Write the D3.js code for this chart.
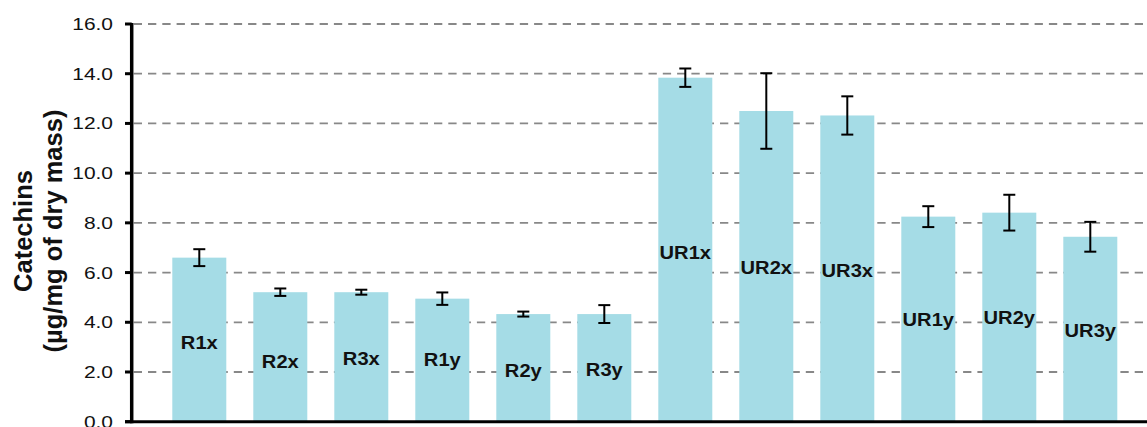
<!DOCTYPE html>
<html><head><meta charset="utf-8">
<script src="https://cdn.jsdelivr.net/npm/d3@7"></script>
<style>html,body{margin:0;padding:0;background:#fff;overflow:hidden}</style>
</head><body><div id="chart"></div>
<script>
const categories = ["R1x","R2x","R3x","R1y","R2y","R3y","UR1x","UR2x","UR3x","UR1y","UR2y","UR3y"];
const values = [6.60,5.21,5.21,4.95,4.33,4.33,13.84,12.50,12.32,8.25,8.41,7.44];
const errors = [0.34,0.15,0.10,0.25,0.10,0.36,0.37,1.52,0.77,0.42,0.72,0.60];
const labelLevels = [3.22,2.45,2.57,2.50,2.08,2.11,6.84,6.22,6.10,4.12,4.21,3.70];
const yTicks = [0,2,4,6,8,10,12,14,16];
const yTickLabels = ["0.0","2.0","4.0","6.0","8.0","10.0","12.0","14.0","16.0"];
const yTitle = ["Catechins","(µg/mg of dry mass)"];

const W = 1147, H = 427;
const FONT = "'Liberation Sans', Arial, sans-serif";
const svg = d3.select("#chart").append("svg").attr("width", W).attr("height", H);

const axisX = 131.7;
const y = d3.scaleLinear().domain([0,16]).range([421.7, 24]);
const x = d3.scaleBand().domain(categories).range([158.8, 158.8 + 12*81])
  .paddingInner(1/3).paddingOuter(1/6);

// gridlines
svg.append("g").selectAll("line").data(yTicks.filter(d => d > 0)).join("line")
  .attr("x1", axisX + 2).attr("x2", W)
  .attr("y1", d => y(d)).attr("y2", d => y(d))
  .attr("stroke", "#888").attr("stroke-width", 1.8)
  .attr("stroke-dasharray", "8.3,6");

// bars
const data = categories.map((c,i) => ({c, v: values[i], e: errors[i], l: labelLevels[i]}));
svg.append("g").selectAll("rect").data(data).join("rect")
  .attr("x", d => x(d.c)).attr("width", x.bandwidth())
  .attr("y", d => y(d.v)).attr("height", d => y(0) - y(d.v))
  .attr("fill", "#a5dce6");

// error bars
const eg = svg.append("g").attr("stroke", "#000").attr("stroke-width", 2);
data.forEach(d => {
  const cx = x(d.c) + x.bandwidth()/2;
  eg.append("line").attr("x1", cx).attr("x2", cx).attr("y1", y(d.v + d.e)).attr("y2", y(d.v - d.e));
  eg.append("line").attr("x1", cx-6).attr("x2", cx+6).attr("y1", y(d.v + d.e)).attr("y2", y(d.v + d.e));
  eg.append("line").attr("x1", cx-6).attr("x2", cx+6).attr("y1", y(d.v - d.e)).attr("y2", y(d.v - d.e));
});

// bar labels
svg.append("g").selectAll("text").data(data).join("text")
  .attr("transform", d => `translate(${x(d.c) + x.bandwidth()/2},${y(d.l)}) scale(1.06,1)`)
  .attr("dy", "0.36em")
  .attr("text-anchor", "middle")
  .attr("font-family", FONT).attr("font-weight", "bold").attr("font-size", 19)
  .attr("fill", "#111").text(d => d.c);

// axes
svg.append("line").attr("x1", axisX).attr("x2", axisX).attr("y1", y(16) - 1).attr("y2", y(0) + 1.5)
  .attr("stroke", "#000").attr("stroke-width", 3.5);
svg.append("line").attr("x1", 125).attr("x2", W).attr("y1", y(0)).attr("y2", y(0))
  .attr("stroke", "#000").attr("stroke-width", 3);
svg.append("g").selectAll("line").data(yTicks).join("line")
  .attr("x1", 125).attr("x2", axisX).attr("y1", d => y(d)).attr("y2", d => y(d))
  .attr("stroke", "#000").attr("stroke-width", 3);

svg.append("g").selectAll("text").data(yTicks).join("text")
  .attr("transform", d => `translate(113,${y(d)}) scale(1.27,1)`)
  .attr("dy", "0.36em").attr("text-anchor", "end")
  .attr("font-family", FONT).attr("font-size", 16.5).attr("fill", "#111")
  .text((d,i) => yTickLabels[i]);

// y title
const t = svg.append("text").attr("transform", "translate(0,231) rotate(-90)")
  .attr("text-anchor", "middle").attr("font-family", FONT).attr("font-weight", "bold")
  .attr("font-size", 25.5).attr("fill", "#111");
t.append("tspan").attr("x", 0).attr("y", 32).text(yTitle[0]);
t.append("tspan").attr("x", 0).attr("y", 62).text(yTitle[1]);
</script></body></html>
